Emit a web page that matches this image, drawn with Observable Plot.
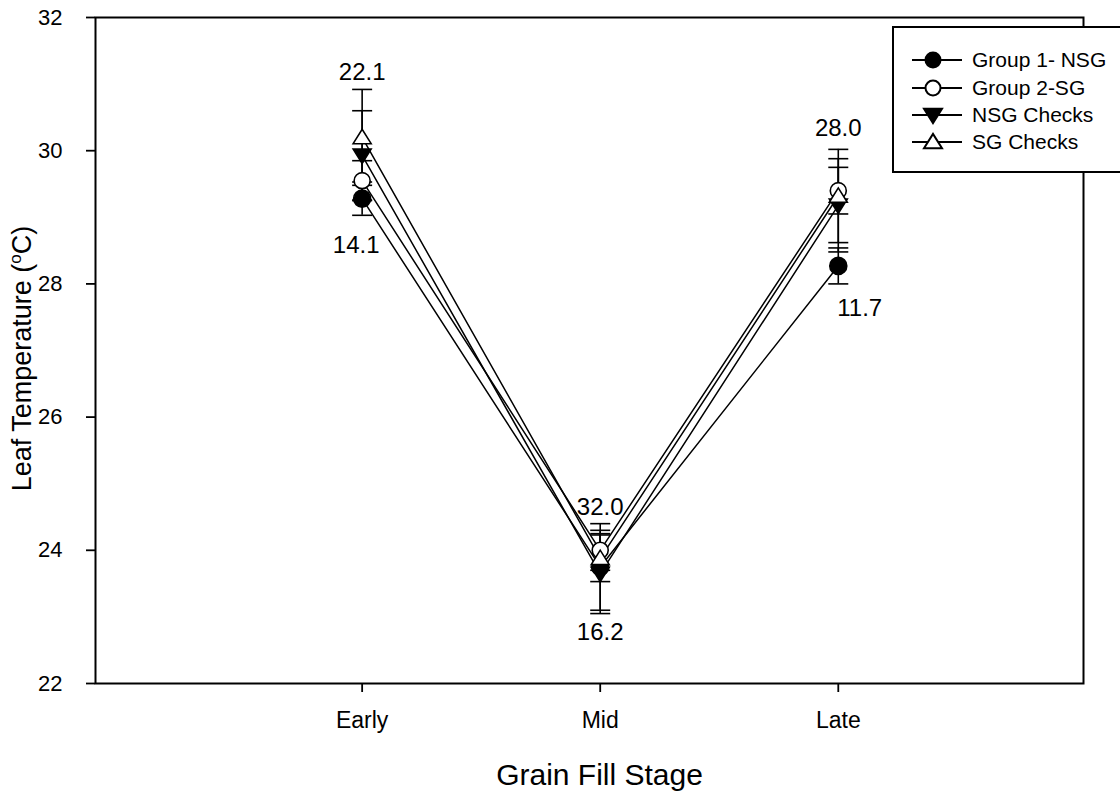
<!DOCTYPE html>
<html>
<head>
<meta charset="utf-8">
<script src="https://cdn.jsdelivr.net/npm/d3@7"></script>
<script src="https://cdn.jsdelivr.net/npm/@observablehq/plot@0.6"></script>
<style>
  body { margin: 0; background: #fff; font-family: "Liberation Sans", Arial, sans-serif; overflow: hidden; }
  #wrap { position: relative; width: 1120px; height: 796px; overflow: hidden; }
  #legend { position: absolute; left: 892px; top: 26px; width: 260px; height: 147px;
            border: 2px solid #000; background: #fff; box-sizing: border-box; }
  .row { position: absolute; left: 17px; height: 24px; display: flex; align-items: center; }
  .row span { font-size: 21px; color: #000; margin-left: 9px; white-space: nowrap; }
</style>
</head>
<body>
<div id="wrap"></div>
<script>
// ---- data ----
const stages = ["Early", "Mid", "Late"];
const stageX = [1, 2, 3];
const seriesNames = ["Group 1- NSG", "Group 2-SG", "NSG Checks", "SG Checks"];
const group1NSG = [29.28, 23.75, 28.27];
const group1NSGErr = [0.25, 0.65, 0.27];
const group2SG = [29.55, 24.0, 29.4];
const group2SGErr = [0.3, 0.3, 0.35];
const nsgChecks = [29.93, 23.65, 29.18];
const nsgChecksErr = [0.67, 0.6, 0.7];
const sgChecks = [30.2, 23.88, 29.32];
const sgChecksErr = [0.72, 0.35, 0.7];
const yTicks = [22, 24, 26, 28, 30, 32];
const annLabels = ["22.1", "14.1", "32.0", "16.2", "28.0", "11.7"];
const annX = [1, 0.975, 2, 2, 3, 3.09];
const annY = [31.17, 28.58, 24.64, 22.77, 30.33, 27.63];

// ---- symbols ----
const capSym = {draw(ctx, size) { const r = Math.sqrt(size / Math.PI); ctx.moveTo(-r, 0); ctx.lineTo(r, 0); }};
const downTri = {draw(ctx, size) { const r = Math.sqrt(size / Math.PI); ctx.moveTo(-r, -r * 0.7); ctx.lineTo(r, -r * 0.7); ctx.lineTo(0, r * 0.9); ctx.closePath(); }};
const upTri = {draw(ctx, size) { const r = Math.sqrt(size / Math.PI); ctx.moveTo(-r, r * 0.7); ctx.lineTo(r, r * 0.7); ctx.lineTo(0, -r * 0.9); ctx.closePath(); }};

const seriesVals = [group1NSG, group2SG, nsgChecks, sgChecks];
const seriesErrs = [group1NSGErr, group2SGErr, nsgChecksErr, sgChecksErr];
const seriesStyle = [
  {symbol: "circle", fill: "black", r: 8.5, lr: 7.5},
  {symbol: "circle", fill: "white", r: 8, lr: 7.5},
  {symbol: downTri, fill: "black", r: 9, lr: 9},
  {symbol: upTri, fill: "white", r: 9, lr: 9}
];

const rowsBySeries = seriesNames.map((name, s) =>
  stages.map((st, i) => ({series: name, x: stageX[i], y: seriesVals[s][i], err: seriesErrs[s][i]})));
const annotations = annLabels.map((t, i) => ({t, x: annX[i], y: annY[i]}));

const marks = [];
rowsBySeries.forEach(rows => {
  marks.push(Plot.line(rows, {x: "x", y: "y", stroke: "black", strokeWidth: 1.5}));
  marks.push(Plot.ruleX(rows, {x: "x", y1: d => d.y - d.err, y2: d => d.y + d.err, stroke: "black", strokeWidth: 1.6}));
  marks.push(Plot.dot(rows, {x: "x", y: d => d.y + d.err, symbol: capSym, r: 10, stroke: "black", strokeWidth: 1.6, fill: "none"}));
  marks.push(Plot.dot(rows, {x: "x", y: d => d.y - d.err, symbol: capSym, r: 10, stroke: "black", strokeWidth: 1.6, fill: "none"}));
});
rowsBySeries.forEach((rows, s) => {
  const st = seriesStyle[s];
  marks.push(Plot.dot(rows, {x: "x", y: "y", symbol: st.symbol, r: st.r, fill: st.fill, stroke: "black", strokeWidth: 1.6}));
});

const font = "'Liberation Sans', Arial, sans-serif";
const chart = Plot.plot({
  width: 1120,
  height: 796,
  marginLeft: 95,
  marginRight: 37,
  marginTop: 17,
  marginBottom: 113,
  style: {fontFamily: font, color: "black", background: "white"},
  x: {domain: [-0.12, 4.03]},
  y: {domain: [22, 32]},
  marks: [
    Plot.axisY({ticks: yTicks, tickSize: 9, tickFormat: () => "", label: null, strokeWidth: 1.8}),
    Plot.axisX({ticks: stageX, tickSize: 9, tickFormat: () => "", label: null, strokeWidth: 1.8}),
    Plot.text(yTicks, {y: d => d, frameAnchor: "left", dx: -33, textAnchor: "end", lineAnchor: "middle", text: d => String(d), fontSize: 22, fill: "black"}),
    Plot.text(stageX, {x: d => d, frameAnchor: "bottom", dy: 37, textAnchor: "middle", lineAnchor: "middle", text: (d, i) => stages[i], fontSize: 23, fill: "black"}),
    ...marks,
    Plot.text(annotations, {x: "x", y: "y", text: "t", fontSize: 24, fill: "black"}),
    Plot.text(["Grain Fill Stage"], {frameAnchor: "bottom", dx: 10, dy: 92, textAnchor: "middle", lineAnchor: "middle", fontSize: 30, fill: "black"}),
    Plot.text(["Leaf Temperature (C)"], {frameAnchor: "left", dx: -73, dy: 8, rotate: -90, textAnchor: "middle", lineAnchor: "middle", fontSize: 27, fill: "black"}),
    Plot.frame({stroke: "black", strokeWidth: 2})
  ]
});

// superscript "o" in the y label
chart.querySelectorAll("text").forEach(t => {
  if (t.textContent === "Leaf Temperature (C)") {
    t.textContent = "";
    const ns = "http://www.w3.org/2000/svg";
    const a = document.createElementNS(ns, "tspan"); a.textContent = "Leaf Temperature (";
    const b = document.createElementNS(ns, "tspan"); b.textContent = "o"; b.setAttribute("dy", "-10"); b.setAttribute("font-size", "17");
    const c = document.createElementNS(ns, "tspan"); c.textContent = "C)"; c.setAttribute("dy", "10");
    t.append(a, b, c);
  }
});

const wrap = document.getElementById("wrap");
wrap.appendChild(chart);

// legend
const legend = document.createElement("div");
legend.id = "legend";
const rowTops = [20, 48, 75, 102];
seriesNames.forEach((name, s) => {
  const row = document.createElement("div");
  row.className = "row";
  row.style.top = rowTops[s] + "px";
  const sv = d3.create("svg").attr("width", 52).attr("height", 24);
  sv.append("line").attr("x1", 1).attr("x2", 51).attr("y1", 12).attr("y2", 12).attr("stroke", "black").attr("stroke-width", 2);
  const st = seriesStyle[s];
  const sym = st.symbol === "circle" ? d3.symbolCircle : st.symbol;
  sv.append("path").attr("transform", "translate(22,12)")
    .attr("d", d3.symbol(sym, st.lr * st.lr * Math.PI)())
    .attr("fill", st.fill).attr("stroke", "black").attr("stroke-width", 2);
  row.appendChild(sv.node());
  const sp = document.createElement("span"); sp.textContent = name;
  row.appendChild(sp);
  legend.appendChild(row);
});
wrap.appendChild(legend);
</script>
</body>
</html>
